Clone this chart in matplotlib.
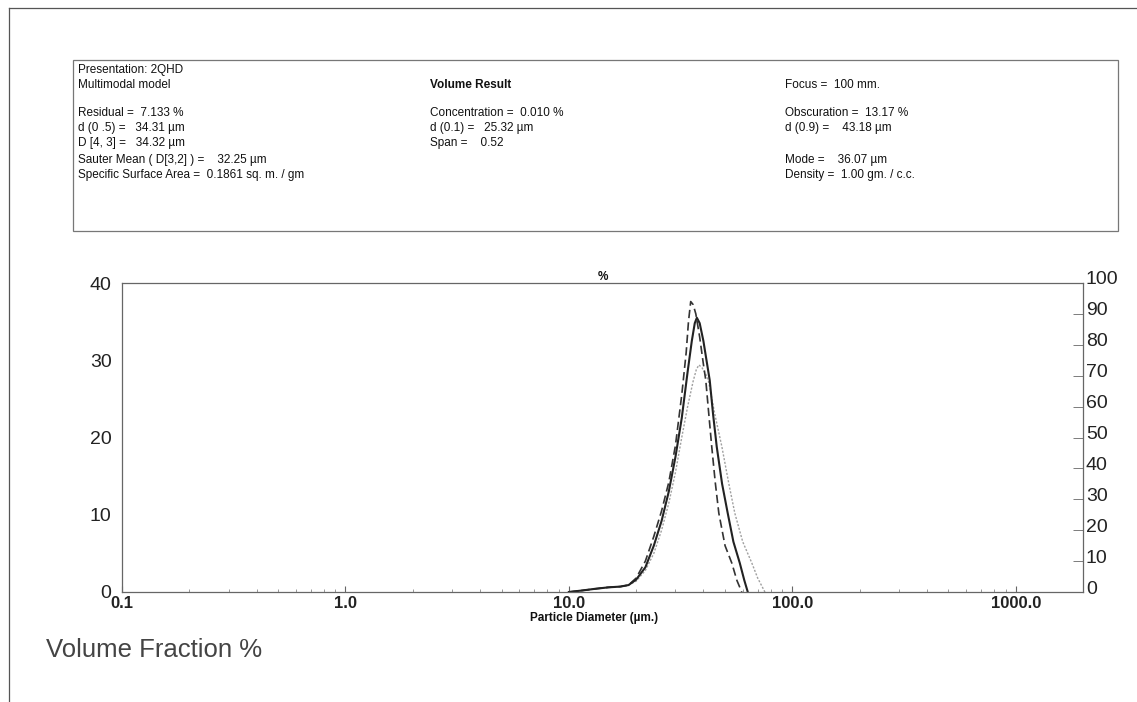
import matplotlib
matplotlib.use("Agg")
import matplotlib.pyplot as plt
from matplotlib.patches import Rectangle
from matplotlib.lines import Line2D
from matplotlib.ticker import FixedLocator, NullFormatter
from matplotlib.transforms import ScaledTranslation

plt.rcParams['font.family'] = ['Liberation Sans', 'DejaVu Sans']

# ---------------- data ----------------
solid_d = [10.0, 11.5, 13.0, 15.0, 17.0, 18.5, 20.0, 22.0, 24.0, 26.0, 28.0,
           30.0, 32.0, 34.0, 35.5, 36.6, 37.4, 38.5, 40.0, 41.3, 42.7, 44.2, 45.9,
           48.5, 51.4, 54.5, 58.2, 61.0, 63.2]
solid_v = [0.0, 0.2, 0.4, 0.6, 0.7, 0.9, 1.6, 3.2, 6.0, 9.2, 13.0,
           17.5, 22.5, 28.5, 32.5, 34.8, 35.5, 34.8, 32.5, 30.0, 27.4, 23.0, 18.8,
           14.0, 10.2, 6.5, 3.75, 1.5, 0.0]

dashed_d = [10.0, 11.5, 13.0, 15.0, 17.0, 18.5, 20.0, 22.0, 24.0, 26.0, 28.0,
            30.0, 32.0, 33.5, 34.3, 35.1, 36.0, 37.0, 38.5, 40.0, 41.0, 42.3, 43.6,
            45.2, 46.9, 50.0, 53.6, 56.5, 59.4]
dashed_v = [0.0, 0.2, 0.4, 0.6, 0.7, 0.9, 1.8, 4.0, 7.2, 10.5, 14.2,
            19.0, 25.5, 31.0, 35.0, 37.6, 37.2, 36.0, 33.0, 29.5, 27.4, 23.0, 18.8,
            14.2, 10.2, 6.0, 3.75, 1.5, 0.0]

dotted_d = [10.0, 11.5, 13.0, 15.0, 17.0, 18.5, 20.0, 22.0, 24.0, 26.0, 28.0,
            30.0, 32.0, 34.0, 36.0, 37.2, 38.2, 39.5, 41.0, 42.1, 45.0, 48.4, 52.0,
            55.3, 60.0, 65.9, 70.0, 75.4]
dotted_v = [0.0, 0.2, 0.4, 0.6, 0.7, 0.9, 1.4, 2.8, 5.0, 8.0, 11.5,
            15.5, 20.0, 24.0, 27.3, 28.8, 29.4, 29.0, 28.2, 27.4, 23.0, 18.8, 14.0,
            10.2, 6.5, 3.75, 1.8, 0.0]

x_ticks = [0.1, 1.0, 10.0, 100.0, 1000.0]
x_tick_labels = ["0.1", "1.0", "10.0", "100.0", "1000.0"]
left_ticks = [0, 10, 20, 30, 40]
right_ticks = [0, 10, 20, 30, 40, 50, 60, 70, 80, 90, 100]

info_left = ["Presentation: 2QHD", "Multimodal model", "",
             "Residual =  7.133 %", "d (0 .5) =   34.31 µm", "D [4, 3] =   34.32 µm",
             "Sauter Mean ( D[3,2] ) =    32.25 µm",
             "Specific Surface Area =  0.1861 sq. m. / gm"]
info_mid = ["", "Volume Result", "", "Concentration =  0.010 %",
            "d (0.1) =   25.32 µm", "Span =    0.52"]
info_right = ["", "Focus =  100 mm.", "", "Obscuration =  13.17 %",
              "d (0.9) =    43.18 µm", "", "Mode =    36.07 µm",
              "Density =  1.00 gm. / c.c."]

W, H = 1137, 702
fig = plt.figure(figsize=(W / 100, H / 100), dpi=100)

def fx(px):
    return px / W

def fy(py):
    return 1 - py / H

# outer border (top + left)
fig.add_artist(Line2D([fx(9), 1.0], [fy(8), fy(8)], color='#555555', lw=0.9))
fig.add_artist(Line2D([fx(9), fx(9)], [fy(8), 0.0], color='#555555', lw=0.9))

# info box
fig.add_artist(Rectangle((fx(73), fy(231)), fx(1118) - fx(73), fy(60) - fy(231),
                         fill=False, edgecolor='#777777', lw=0.9))

line_y = [70, 85, 99, 113, 128, 143, 160, 175]
for i, t in enumerate(info_left):
    if t:
        fig.text(fx(78), fy(line_y[i]), t, fontsize=8.5, va='center', ha='left', color='#111111')
for i, t in enumerate(info_mid):
    if t:
        fig.text(fx(430), fy(line_y[i]), t, fontsize=8.5, va='center', ha='left', color='#111111',
                 fontweight='bold' if t == "Volume Result" else 'normal')
for i, t in enumerate(info_right):
    if t:
        fig.text(fx(785), fy(line_y[i]), t, fontsize=8.5, va='center', ha='left', color='#111111')

# main axes
ax = fig.add_axes([fx(122), fy(592), fx(1083) - fx(122), fy(283) - fy(592)])
ax.plot(dotted_d, dotted_v, color='#a0a0a0', lw=1.0, ls=(0, (1.5, 1.2)))
ax.plot(dashed_d, dashed_v, color='#333333', lw=1.2, ls=(0, (5, 2.5)))
ax.plot(solid_d, solid_v, color='#222222', lw=1.5)

ax.set_xscale('log')
ax.set_xlim(0.1, 2000)
ax.set_ylim(0, 40)
ax.set_xticks(x_ticks)
ax.set_xticklabels(x_tick_labels, fontsize=12, fontweight='bold', color='#222222')
ax.xaxis.set_minor_locator(FixedLocator([m * 10.0 ** e for e in range(-1, 4) for m in range(2, 10)]))
ax.xaxis.set_minor_formatter(NullFormatter())
ax.tick_params(axis='x', which='major', direction='in', length=4, width=0.8, pad=3, color='#666666')
ax.tick_params(axis='x', which='minor', direction='in', length=2, width=0.6, color='#888888')
ax.set_yticks(left_ticks)
ax.set_yticklabels([str(v) for v in left_ticks], fontsize=14, color='#222222')
ax.tick_params(axis='y', length=0, pad=7.5)
for s in ax.spines.values():
    s.set_color('#666666')
    s.set_linewidth(0.9)
ax.set_xlabel("Particle Diameter (µm.)", fontsize=8.5, fontweight='bold', color='#111111')
ax.xaxis.set_label_coords((594 - 122) / 961, -(618 - 592) / 309, transform=ax.transAxes)
ax.xaxis.label.set_va('center')
ax.set_title("%", fontsize=8.5, fontweight='bold', pad=2, color='#111111')

ax2 = ax.twinx()
ax2.set_ylim(0, 100)
ax2.set_yticks(right_ticks)
ax2.set_yticklabels([str(v) for v in right_ticks], fontsize=14, color='#222222')
ax2.tick_params(axis='y', direction='in', length=7, width=0.6, pad=2, color='#666666')
shift = ScaledTranslation(0, 5 / 100, fig.dpi_scale_trans)
for lab in ax2.get_yticklabels():
    lab.set_transform(lab.get_transform() + shift)
for s in ax2.spines.values():
    s.set_visible(False)

fig.text(fx(46), fy(650), "Volume Fraction %", fontsize=18.5, va='center', ha='left', color='#444444')

fig.savefig("out.png", dpi=100)
